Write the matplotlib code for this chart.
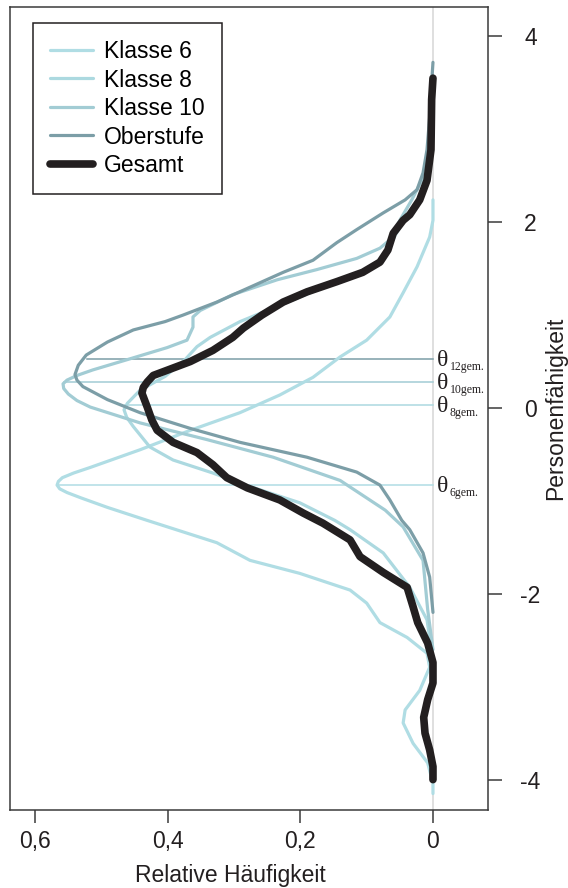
import matplotlib.pyplot as plt

plt.rcParams['font.family'] = ['Liberation Sans', 'DejaVu Sans']

# Personenfaehigkeit (theta) und relative Haeufigkeit
k6_theta = [2.24, 2.02, 1.84, 1.52, 1.24, 0.98, 0.73, 0.55, 0.33, 0.14, -0.05, -0.24, -0.45,
            -0.64, -0.70, -0.75, -0.79, -0.83, -0.87, -0.91, -0.97, -1.07, -1.21, -1.45, -1.64,
            -1.78, -1.96, -2.10, -2.31, -2.47, -2.64, -2.79, -3.04, -3.25, -3.39, -3.61, -3.82,
            -4.04, -4.15]
k6_freq = [0.0, 0.0, 0.005, 0.024, 0.045, 0.065, 0.100, 0.140, 0.181, 0.231, 0.291, 0.366, 0.442,
           0.517, 0.542, 0.559, 0.565, 0.567, 0.563, 0.552, 0.530, 0.491, 0.431, 0.326, 0.276,
           0.201, 0.125, 0.100, 0.080, 0.039, 0.009, 0.005, 0.020, 0.042, 0.045, 0.030, 0.008,
           0.0, 0.0]

k8_theta = [3.32, 2.78, 2.35, 2.08, 1.86, 1.59, 1.49, 1.27, 1.05, 0.93, 0.76, 0.66, 0.52, 0.34,
            0.19, 0.05, -0.02, -0.10, -0.20, -0.42, -0.56, -0.70, -0.81, -1.02, -1.21, -1.31,
            -1.56, -1.93, -2.28, -2.71]
k8_freq = [0.0, 0.002, 0.012, 0.038, 0.057, 0.075, 0.100, 0.175, 0.250, 0.291, 0.336, 0.356,
           0.374, 0.404, 0.442, 0.461, 0.466, 0.462, 0.452, 0.427, 0.392, 0.332, 0.291, 0.201,
           0.148, 0.125, 0.075, 0.035, 0.009, 0.0]

k10_theta = [3.30, 2.99, 2.56, 2.24, 2.02, 1.81, 1.72, 1.61, 1.49, 1.38, 1.22, 1.05, 0.98, 0.87,
             0.73, 0.65, 0.54, 0.41, 0.35, 0.30, 0.26, 0.21, 0.15, 0.08, 0.01, -0.16, -0.34,
             -0.53, -0.78, -1.10, -1.28, -1.64, -2.17, -2.60]
k10_freq = [0.0, 0.003, 0.009, 0.032, 0.050, 0.065, 0.080, 0.115, 0.175, 0.235, 0.302, 0.351,
            0.362, 0.362, 0.371, 0.401, 0.452, 0.513, 0.537, 0.552, 0.558, 0.557, 0.550, 0.537,
            0.517, 0.442, 0.341, 0.241, 0.140, 0.072, 0.045, 0.015, 0.008, 0.0]

ob_theta = [3.72, 3.50, 3.13, 2.78, 2.53, 2.35, 2.24, 2.10, 1.92, 1.78, 1.59, 1.46, 1.30, 1.14,
            1.00, 0.93, 0.84, 0.71, 0.57, 0.46, 0.36, 0.30, 0.23, 0.09, -0.05, -0.22, -0.37,
            -0.53, -0.69, -0.83, -0.99, -1.21, -1.31, -1.56, -1.82, -2.20]
ob_freq = [0.0, 0.002, 0.005, 0.009, 0.015, 0.024, 0.042, 0.075, 0.115, 0.145, 0.181, 0.226,
           0.276, 0.326, 0.377, 0.404, 0.452, 0.491, 0.523, 0.535, 0.540, 0.537, 0.528, 0.491,
           0.442, 0.366, 0.291, 0.190, 0.115, 0.080, 0.065, 0.047, 0.035, 0.015, 0.005, 0.0]

ges_theta = [3.55, 3.32, 2.78, 2.45, 2.24, 2.08, 2.02, 1.88, 1.70, 1.57, 1.46, 1.36, 1.25, 1.14,
             1.00, 0.86, 0.76, 0.62, 0.50, 0.39, 0.35, 0.28, 0.22, 0.16, 0.01, -0.13, -0.24,
             -0.37, -0.48, -0.61, -0.75, -0.86, -0.99, -1.13, -1.24, -1.42, -1.60, -1.77, -1.93,
             -2.14, -2.31, -2.53, -2.74, -2.96, -3.14, -3.33, -3.50, -3.68, -3.86, -4.00]
ges_freq = [0.0, 0.002, 0.003, 0.009, 0.020, 0.035, 0.045, 0.060, 0.068, 0.080, 0.106, 0.145,
            0.190, 0.226, 0.258, 0.286, 0.302, 0.332, 0.366, 0.407, 0.422, 0.431, 0.437, 0.439,
            0.431, 0.424, 0.416, 0.392, 0.356, 0.332, 0.311, 0.280, 0.231, 0.196, 0.166, 0.125,
            0.110, 0.075, 0.039, 0.030, 0.023, 0.008, 0.0, 0.0, 0.008, 0.014, 0.012, 0.005, 0.0,
            0.0]

labels = ["Klasse 6", "Klasse 8", "Klasse 10", "Oberstufe", "Gesamt"]
colors = ["#b0dde4", "#acd9e0", "#a2ccd4", "#7c9ea7", "#231f20"]
widths = [2.3, 2.3, 2.3, 2.3, 5.5]

# gemittelte Faehigkeiten je Gruppe
theta_mean = [0.53, 0.28, 0.03, -0.83]
theta_sub = ["12gem.", "10gem.", "8gem.", "6gem."]
theta_start = [0.522, 0.556, 0.464, 0.567]
theta_col = ["#7c9ea7", "#a2ccd4", "#acd9e0", "#b0dde4"]

x_ticks = [0.6, 0.4, 0.2, 0]
x_labels = ["0,6", "0,4", "0,2", "0"]
y_ticks = [-4, -2, 0, 2, 4]
y_labels = ["-4", "-2", "0", "2", "4"]

fig = plt.figure(figsize=(5.68, 8.88), dpi=100)
ax = fig.add_axes([10/568, 1 - 810/888, 478/568, 803/888])

ax.axvline(0, color="#d6d6d6", lw=1.1, zorder=1)
for m, s, c in zip(theta_mean, theta_start, theta_col):
    ax.plot([s, 0], [m, m], color=c, lw=1.1, zorder=2)

for m, sub in zip(theta_mean, theta_sub):
    ax.annotate("θ", xy=(0, m), xytext=(2.6, -5.2), textcoords="offset points",
                family="Liberation Serif", fontsize=17, ha="left", va="baseline", color="#231f20")
    ax.annotate(sub, xy=(0, m), xytext=(12.0, -8.0), textcoords="offset points",
                family="Liberation Serif", fontsize=8.5, ha="left", va="baseline", color="#231f20")

series = [(k6_freq, k6_theta), (k8_freq, k8_theta), (k10_freq, k10_theta),
          (ob_freq, ob_theta), (ges_freq, ges_theta)]
for (f, t), lab, c, w in zip(series, labels, colors, widths):
    ax.plot(f, t, color=c, lw=w, label=lab, solid_capstyle="round",
            solid_joinstyle="round", zorder=3)

ax.set_xlim(0.638, -0.083)
ax.set_ylim(-4.327, 4.316)
ax.set_xticks(x_ticks)
ax.set_xticklabels(x_labels)
ax.yaxis.tick_right()
ax.set_yticks(y_ticks)
ax.set_yticklabels(y_labels)
ax.tick_params(axis="x", direction="out", length=9.4, width=1.1, pad=5,
               labelsize=16.5, color="#3a3a3a", labelcolor="#231f20")
ax.tick_params(axis="y", direction="out", length=10, width=1.1, pad=20.5,
               labelsize=16.5, color="#3a3a3a", labelcolor="#231f20")
for lab in ax.get_yticklabels():
    lab.set_ha("center")

for sp in ax.spines.values():
    sp.set_linewidth(1.1)
    sp.set_color("#3a3a3a")

ax.set_xlabel("Relative Häufigkeit", fontsize=16.5, color="#231f20")
ax.xaxis.set_label_coords(0.46, (810 - 875) / 803)
ax.xaxis.label.set_va("center")

ax.set_ylabel("Personenfähigkeit", fontsize=16.5, color="#231f20")
ax.yaxis.set_label_position("right")
ax.yaxis.set_label_coords((556 - 10) / 478, 0.5)
ax.yaxis.label.set_va("center")

leg = ax.legend(loc="upper left", bbox_to_anchor=(0.048, 0.980), fontsize=16.5,
                fancybox=False, framealpha=1, edgecolor="#231f20", borderaxespad=0,
                handlelength=1.9, handletextpad=0.45, labelspacing=0.24, borderpad=0.74)
leg.get_frame().set_linewidth(1.1)

fig.savefig("out.png", dpi=100)
